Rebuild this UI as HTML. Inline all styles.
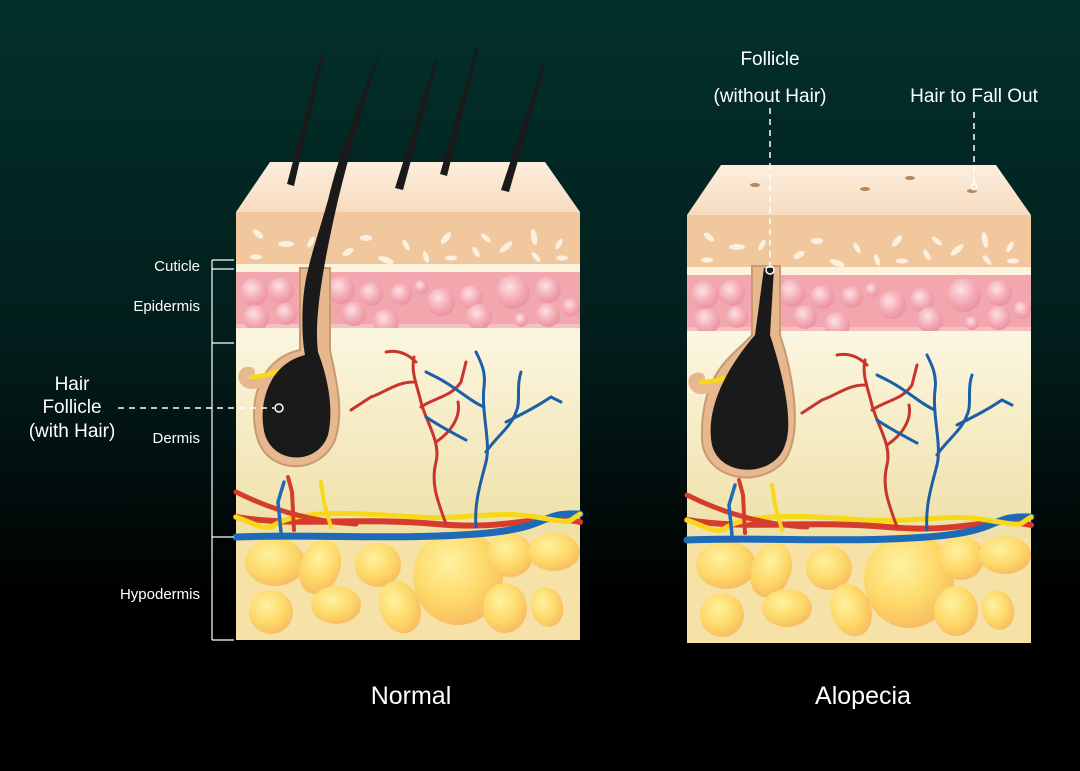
<!DOCTYPE html>
<html><head><meta charset="utf-8"><style>
html,body{margin:0;padding:0;background:#000}
svg{display:block}
text{font-family:"Liberation Sans","DejaVu Sans",sans-serif;fill:#fff}
</style></head><body>
<svg width="1080" height="771" viewBox="0 0 1080 771" xmlns="http://www.w3.org/2000/svg">
<defs>
<linearGradient id="bg" x1="0" y1="0" x2="0" y2="1">
<stop offset="0" stop-color="#03302b"/><stop offset="0.45" stop-color="#021d1b"/><stop offset="0.78" stop-color="#000"/><stop offset="1" stop-color="#000"/></linearGradient>
<linearGradient id="topf" x1="0" y1="0" x2="0" y2="1"><stop offset="0" stop-color="#fdeedd"/><stop offset="1" stop-color="#f6dcc0"/></linearGradient>
<linearGradient id="derm" x1="0" y1="0" x2="0" y2="1"><stop offset="0" stop-color="#fbf6e0"/><stop offset="1" stop-color="#efe0a8"/></linearGradient>
<radialGradient id="fat" cx="0.4" cy="0.35" r="0.7"><stop offset="0" stop-color="#fff2a0"/><stop offset="0.6" stop-color="#fdd868"/><stop offset="1" stop-color="#f7b960"/></radialGradient>
<radialGradient id="pk" cx="0.4" cy="0.35" r="0.7"><stop offset="0" stop-color="#fde0e4"/><stop offset="0.6" stop-color="#f3a8b2"/><stop offset="1" stop-color="#e8909c"/></radialGradient>
<g id="blk">
<polygon points="34,-50 309,-50 344,0 0,0" fill="url(#topf)"/>
<rect x="0" y="0" width="344" height="52" fill="#f1c79d"/>
<g fill="#fff5e8" opacity="0.9">
<ellipse cx="22" cy="22" rx="6" ry="3" transform="rotate(40 22 22)"/><ellipse cx="50" cy="32" rx="8" ry="3"/><ellipse cx="75" cy="30" rx="6" ry="2.5" transform="rotate(-60 75 30)"/><ellipse cx="20" cy="45" rx="6" ry="2.5"/><ellipse cx="112" cy="40" rx="6" ry="3" transform="rotate(-30 112 40)"/><ellipse cx="130" cy="26" rx="6" ry="3"/><ellipse cx="150" cy="48" rx="8" ry="3" transform="rotate(20 150 48)"/><ellipse cx="170" cy="33" rx="6" ry="2.5" transform="rotate(60 170 33)"/><ellipse cx="190" cy="45" rx="6" ry="2.5" transform="rotate(70 190 45)"/><ellipse cx="210" cy="26" rx="7" ry="3" transform="rotate(-50 210 26)"/><ellipse cx="215" cy="46" rx="6" ry="2.5"/><ellipse cx="240" cy="40" rx="6" ry="2.5" transform="rotate(60 240 40)"/><ellipse cx="250" cy="26" rx="6" ry="2.5" transform="rotate(40 250 26)"/><ellipse cx="270" cy="35" rx="8" ry="3" transform="rotate(-40 270 35)"/><ellipse cx="298" cy="25" rx="8" ry="3" transform="rotate(80 298 25)"/><ellipse cx="300" cy="45" rx="6" ry="2.5" transform="rotate(50 300 45)"/><ellipse cx="323" cy="32" rx="6" ry="2.5" transform="rotate(-60 323 32)"/><ellipse cx="326" cy="46" rx="6" ry="2.5"/>
</g>
<rect x="0" y="52" width="344" height="8" fill="#fbf3dc"/>
<rect x="0" y="60" width="344" height="58" fill="#f2a6ad"/>
<rect x="0" y="112" width="344" height="6" fill="#f5bfc4"/>
<g fill="url(#pk)">
<circle cx="18" cy="80" r="14"/><circle cx="45" cy="78" r="13"/><circle cx="20" cy="106" r="13"/><circle cx="50" cy="102" r="11"/><circle cx="105" cy="78" r="14"/><circle cx="135" cy="82" r="12"/><circle cx="118" cy="102" r="12"/><circle cx="165" cy="82" r="11"/><circle cx="150" cy="110" r="13" /><circle cx="185" cy="75" r="7"/><circle cx="205" cy="90" r="14"/><circle cx="235" cy="85" r="12"/><circle cx="243" cy="105" r="13"/><circle cx="277" cy="80" r="17"/><circle cx="285" cy="108" r="7"/><circle cx="312" cy="78" r="13"/><circle cx="312" cy="103" r="12"/><circle cx="335" cy="95" r="9"/><circle cx="80" cy="92" r="11"/>
</g>
<rect x="0" y="116" width="344" height="207" fill="url(#derm)"/>
<rect x="0" y="323" width="344" height="105" fill="#f6e2a6"/>
<g fill="url(#fat)">
<ellipse cx="39" cy="350" rx="30" ry="24"/><ellipse cx="84" cy="355" rx="20" ry="28" transform="rotate(20 84 355)"/><ellipse cx="142" cy="353" rx="23" ry="22"/><ellipse cx="222" cy="365" rx="45" ry="48"/><ellipse cx="274" cy="343" rx="23" ry="22"/><ellipse cx="318" cy="340" rx="26" ry="19"/><ellipse cx="35" cy="400" rx="22" ry="22"/><ellipse cx="100" cy="393" rx="25" ry="19"/><ellipse cx="164" cy="395" rx="20" ry="27" transform="rotate(-20 164 395)"/><ellipse cx="269" cy="396" rx="22" ry="25"/><ellipse cx="311" cy="395" rx="16" ry="20" transform="rotate(-15 311 395)"/>
</g>
<g fill="none" stroke-linecap="round">
<path d="M0,305 C60,315 120,305 200,312 S300,300 344,310" stroke="#d63c2c" stroke-width="6"/>
<path d="M0,325 C80,322 160,328 240,322 S300,300 344,302" stroke="#1d6ab8" stroke-width="7"/>
<path d="M0,305 C20,312 30,320 40,312 C70,296 130,302 180,305 S260,298 300,305 S330,310 344,302" stroke="#f7d81b" stroke-width="5"/>
<path d="M0,280 C40,300 80,310 120,312" stroke="#d63c2c" stroke-width="5"/>
<path d="M45,320 L42,290 L48,270" stroke="#1d6ab8" stroke-width="3.5"/>
<path d="M58,318 L56,280 L52,265" stroke="#d63c2c" stroke-width="4"/>
<path d="M95,315 L88,290 L85,270" stroke="#f7d81b" stroke-width="4"/>
<path d="M210,312 C200,285 195,270 200,250 C205,230 190,210 185,190 C180,170 175,160 178,145 M185,195 C200,185 215,185 225,170 L230,150 M200,230 C215,220 225,205 222,190 M178,170 C160,170 150,180 135,185 L115,198 M180,150 C170,140 160,138 150,140" stroke="#c9342c" stroke-width="3"/>
<path d="M240,315 C238,290 245,270 250,250 C255,230 245,200 248,175 C250,160 245,150 240,140 M250,240 C260,225 275,215 280,200 C285,190 280,175 285,160 M270,210 C290,200 300,195 315,185 L325,190 M248,195 C235,190 220,175 200,165 L190,160 M230,228 C215,220 205,215 190,205" stroke="#1d5ea8" stroke-width="3"/>
</g>
</g>
</defs>
<rect width="1080" height="771" fill="url(#bg)"/>
<!-- left block -->
<use href="#blk" transform="translate(236,212)"/>
<use href="#blk" transform="translate(687,215)"/>
<!-- left hairs -->
<g fill="#1a1a1a">
<polygon points="287,184 294,186 324,55 321,55"/>
<polygon points="395,188 403,190 438,60 435,60"/>
<polygon points="440,174 447,176 479,47 476,47"/>
<polygon points="501,190 509,192 546,63 543,63"/>
</g>
<!-- left follicle -->
<path d="M300,268 L300,350 C255,360 248,410 258,440 C270,475 320,475 335,440 C345,410 335,375 330,350 L330,268 Z" fill="#e7b88d" stroke="#c99a70" stroke-width="2"/>
<path d="M250,372 C240,370 242,385 252,384 C262,383 280,378 298,368" fill="none" stroke="#e7b88d" stroke-width="10" stroke-linecap="round"/>
<path d="M252,377 C258,377 275,374 298,364" fill="none" stroke="#f7d81b" stroke-width="5" stroke-linecap="round"/>
<path d="M308,270 C300,300 302,340 305,355 C265,365 258,410 265,435 C275,465 318,465 328,435 C335,405 325,370 318,352 C314,320 322,270 338,200 C350,150 365,100 383,42 C360,100 340,150 328,200 C318,235 312,252 308,270 Z" fill="#1a1a1a"/>
<circle cx="279" cy="408" r="4" fill="none" stroke="#fff" stroke-width="1.5"/>
<line x1="118" y1="408" x2="274" y2="408" stroke="#fff" stroke-width="1.5" stroke-dasharray="6,5"/>
<!-- right follicle -->
<path d="M752,266 L752,335 C735,355 700,370 702,440 C705,480 760,490 785,460 C805,430 790,365 780,335 L780,266 Z" fill="#e7b88d" stroke="#c99a70" stroke-width="2"/>
<path d="M700,378 C690,375 692,390 702,389 C712,388 730,384 745,372" fill="none" stroke="#e7b88d" stroke-width="10" stroke-linecap="round"/>
<path d="M702,382 C710,382 728,380 745,368" fill="none" stroke="#f7d81b" stroke-width="5" stroke-linecap="round"/>
<path d="M764,268 L774,268 L770,335 C780,365 795,420 785,445 C775,478 720,478 712,445 C705,410 725,370 755,335 Z" fill="#1a1a1a"/>
<g fill="#b8865c"><ellipse cx="755" cy="185" rx="5" ry="2"/><ellipse cx="865" cy="189" rx="5" ry="2"/><ellipse cx="910" cy="178" rx="5" ry="2"/><ellipse cx="972" cy="191" rx="5" ry="2"/></g>
<circle cx="770" cy="270" r="4" fill="none" stroke="#fff" stroke-width="1.5"/>
<line x1="770" y1="108" x2="770" y2="265" stroke="#fff" stroke-width="1.5" stroke-dasharray="6,5"/>
<circle cx="974" cy="187" r="3" fill="none" stroke="#fff" stroke-width="1.2"/>
<line x1="974" y1="112" x2="974" y2="183" stroke="#fff" stroke-width="1.5" stroke-dasharray="6,5"/>
<!-- bracket -->
<g stroke="#fff" stroke-width="1.2" fill="none">
<line x1="212" y1="260" x2="212" y2="640"/>
<line x1="212" y1="260" x2="234" y2="260"/><line x1="212" y1="269" x2="234" y2="269"/><line x1="212" y1="343" x2="234" y2="343"/><line x1="212" y1="537" x2="234" y2="537"/><line x1="212" y1="640" x2="234" y2="640"/>
</g>
<g font-size="15" text-anchor="end">
<text x="200" y="271">Cuticle</text><text x="200" y="311">Epidermis</text><text x="200" y="443">Dermis</text><text x="200" y="599">Hypodermis</text>
</g>
<g font-size="19" text-anchor="middle">
<text x="72" y="390">Hair</text><text x="72" y="413">Follicle</text><text x="72" y="437">(with Hair)</text>
<text x="770" y="65">Follicle</text><text x="770" y="102">(without Hair)</text>
<text x="974" y="102">Hair to Fall Out</text>
</g>
<g font-size="25" text-anchor="middle"><text x="411" y="704">Normal</text><text x="863" y="704">Alopecia</text></g>
</svg>
</body></html>
